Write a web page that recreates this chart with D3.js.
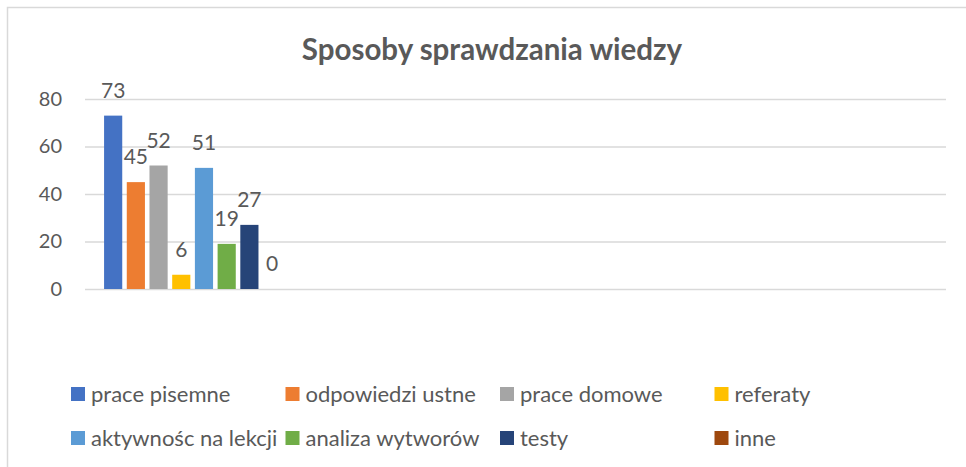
<!DOCTYPE html>
<html>
<head>
<meta charset="utf-8">
<script src="https://cdn.jsdelivr.net/npm/d3@7"></script>
<style>
  body { margin: 0; background: #fff; }
  svg text { font-family: Lato, "Open Sans", sans-serif; fill: #595959; }
</style>
</head>
<body>
<div id="chart"></div>
<script>
// ------- Data -------
const title = "Sposoby sprawdzania wiedzy";
const seriesNames = ["prace pisemne", "odpowiedzi ustne", "prace domowe", "referaty",
                     "aktywnośc na lekcji", "analiza wytworów", "testy", "inne"];
const seriesValues = [73, 45, 52, 6, 51, 19, 27, 0];
const seriesColors = ["#4472C4", "#ED7D31", "#A5A5A5", "#FFC000",
                      "#5B9BD5", "#70AD47", "#264478", "#9E480E"];
const yTicks = [0, 20, 40, 60, 80];
// the sheet has four category slots, only the first one is filled
const categorySlots = [0, 1, 2, 3];

const width = 966, height = 467;
const margin = {left: 85, right: 20, top: 99, bottom: 178};

let svg = d3.select("#chart").append("svg")
    .attr("width", width)
    .attr("height", height);

// chart frame
svg.append("rect")
   .attr("x", 7.5).attr("y", 7.5)
   .attr("width", 966).attr("height", 470)
   .attr("fill", "none")
   .attr("stroke", "#D9D9D9")
   .attr("stroke-width", 1.5);

svg.append("text")
   .attr("x", 492).attr("y", 60)
   .attr("text-anchor", "middle")
   .style("font-size", "29.5px")
   .style("font-weight", "bold")
   .text(title);

let yScale = d3.scaleLinear()
               .domain([0, 80])
               .range([height - margin.bottom, margin.top]);

let x0 = d3.scaleBand()
           .domain(categorySlots)
           .range([margin.left, 946]);

let x1 = d3.scaleBand()
           .domain(seriesNames)
           .range([0, x0.bandwidth()])
           .paddingInner(0.2)
           .paddingOuter(0.84);

// gridlines + tick labels
let yAxis = svg.append("g")
   .attr("transform", `translate(${margin.left},0)`)
   .call(d3.axisLeft(yScale).tickValues(yTicks).tickSize(-(946 - margin.left)).tickPadding(23))
yAxis.select(".domain").remove();
yAxis.selectAll("line").attr("stroke", "#D9D9D9").attr("stroke-width", 1.5);
yAxis.selectAll("text").style("font-size", "20px").attr("fill", "#595959");

let series = seriesNames.map((name, i) => ({name: name, value: seriesValues[i], color: seriesColors[i]}));

let group = svg.append("g")
   .attr("transform", `translate(${x0(categorySlots[0])},0)`);

group.selectAll("rect")
   .data(series)
   .enter()
   .append("rect")
   .attr("x", d => x1(d.name))
   .attr("y", d => yScale(d.value))
   .attr("width", x1.bandwidth())
   .attr("height", d => yScale(0) - yScale(d.value))
   .attr("fill", d => d.color);

group.selectAll(".label")
   .data(series)
   .enter()
   .append("text")
   .attr("class", "label")
   .attr("x", d => x1(d.name) + x1.bandwidth() / 2)
   .attr("y", d => yScale(d.value) - 18)
   .attr("text-anchor", "middle")
   .style("font-size", "21px")
   .text(d => d.value);

// ------- Legend -------
let legend = svg.append("g")
   .selectAll("g")
   .data(series)
   .enter()
   .append("g")
   .attr("transform", (d, i) => `translate(${71 + (i % 4) * 214.5},${387 + Math.floor(i / 4) * 44})`);

legend.append("rect")
   .attr("width", 14).attr("height", 14)
   .attr("fill", d => d.color);

legend.append("text")
   .attr("x", 20).attr("y", 15)
   .style("font-size", "22px")
   .text(d => d.name);
</script>
</body>
</html>
